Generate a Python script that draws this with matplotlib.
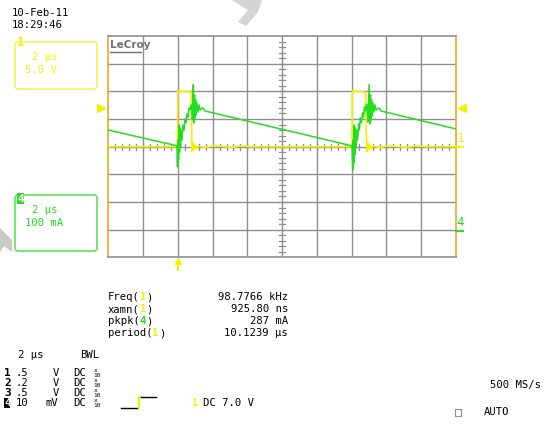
import numpy as np
import matplotlib
matplotlib.use("Agg")
import matplotlib.pyplot as plt
from matplotlib.patches import FancyBboxPatch, Rectangle, Polygon

W, H = 544, 424

# channel 1 trace (yellow), x/y in screen divisions (x 0..10, y -4..4)
ch1_x = [0.0, 1.50, 1.99, 2.00, 2.38, 2.40, 2.41, 2.44, 2.47, 2.50, 2.53, 2.58, 2.80, 3.05, 3.30,
         3.60, 3.85, 4.10, 5.00, 6.00, 7.01, 7.02, 7.40, 7.42, 7.44, 7.47, 7.50, 7.53, 7.56, 7.61,
         7.82, 8.07, 8.32, 8.62, 8.87, 9.12, 10.0]
ch1_y = [0.0, 0.0, 0.0, 2.01, 1.97, 0.50, -0.19, 0.13, -0.12, 0.06, -0.08, 0.02, -0.03, 0.04, 0.0,
         -0.02, 0.04, 0.0, 0.0, 0.0, 0.0, 2.01, 1.97, 0.50, -0.19, 0.13, -0.12, 0.06, -0.08, 0.02,
         -0.03, 0.04, 0.0, -0.02, 0.04, 0.0, 0.0]

# channel 4 trace (green)
ch4_x = [0.0, 1.95, 1.976, 1.99, 2.005, 2.02, 2.033, 2.048, 2.062, 2.077, 2.091, 2.12, 2.148, 2.177,
         2.206, 2.235, 2.263, 2.292, 2.32, 2.35, 2.38, 2.407, 2.42, 2.445, 2.46, 2.48, 2.494, 2.51,
         2.52, 2.55, 2.58, 2.61, 2.64, 2.72, 2.78,
         7.00, 7.01, 7.03, 7.04, 7.06, 7.07, 7.09, 7.10, 7.12, 7.14, 7.17, 7.20, 7.22, 7.25, 7.28,
         7.31, 7.34, 7.37, 7.40, 7.43, 7.45, 7.47, 7.50, 7.52, 7.54, 7.56, 7.57, 7.59, 7.61, 7.64,
         7.67, 7.70, 7.79, 7.84, 10.0]
ch4_y = [0.60, 0.04, -0.01, -0.73, 0.24, -0.48, 0.78, -0.19, 0.68, -0.01, 0.60, 0.24, 0.78, 0.60,
         1.00, 0.86, 1.18, 1.07, 1.40, 1.33, 1.51, 1.36, 0.97, 2.24, 0.86, 1.87, 1.04, 1.69,
         1.15, 1.58, 1.25, 1.51, 1.33, 1.40, 1.29,
         0.03, -0.01, -0.84, 0.24, -0.59, 0.78, -0.30, 0.68, -0.05, 0.60, 0.24, 0.82, 0.60, 1.04, 0.86,
         1.22, 1.07, 1.44, 1.29, 1.54, 1.33, 0.89, 2.24, 0.82, 1.87, 0.96, 1.69, 1.11, 1.58, 1.25,
         1.51, 1.33, 1.40, 1.29, 0.64]

meas_names = ["Freq", "xamn", "pkpk", "period"]
meas_chan = ["1", "1", "4", "1"]
meas_values = ["98.7766 kHz", "925.80 ns", "287 mA", "10.1239 \u00b5s"]
chan_rows = [("1", ".5", "V"), ("2", ".2", "V"), ("3", ".5", "V"), ("4", "10", "mV")]

YEL = "#f2f200"
GRN = "#22dd22"
ORG = "#f5a623"
GRID = "#8f8f8f"
MONO = "DejaVu Sans Mono"
FS = 7.6

fig = plt.figure(figsize=(W / 100, H / 100), dpi=100, facecolor="white")
x0, x1, y0, y1 = 108.3, 456.0, 36.0, 257.3
ax = fig.add_axes([x0 / W, 1 - y1 / H, (x1 - x0) / W, (y1 - y0) / H])
ax.set_xlim(0, 10)
ax.set_ylim(-4, 4)
ax.set_xticks([])
ax.set_yticks([])
for i in range(1, 10):
    ax.axvline(i, color=GRID, lw=1.0, zorder=1)
for j in range(-3, 4):
    ax.axhline(j, color=GRID, lw=1.0, zorder=1)
# minor ticks on centre cross
for k in range(1, 50):
    ax.plot([k * 0.2, k * 0.2], [-0.11, 0.11], color=GRID, lw=0.9, zorder=1)
for k in range(1, 40):
    yy = -4 + k * 0.2
    ax.plot([4.91, 5.09], [yy, yy], color=GRID, lw=0.9, zorder=1)
for side in ["top", "bottom"]:
    ax.spines[side].set_color(GRID)
for side in ["left", "right"]:
    ax.spines[side].set_color(ORG)
for sp in ax.spines.values():
    sp.set_linewidth(1.2)

ax.plot(ch1_x, ch1_y, color=YEL, lw=1.2, zorder=3)
ax.plot(ch4_x, ch4_y, color=GRN, lw=1.1, zorder=4)

# overlay in pixel coordinates
ov = fig.add_axes([0, 0, 1, 1], facecolor="none")
ov.set_xlim(0, W)
ov.set_ylim(H, 0)
ov.axis("off")

def txt(x, y, s, color="black", size=FS, **kw):
    ov.text(x, y, s, color=color, fontsize=size, family=MONO, va="center", **kw)

# LeCroy logo
ov.text(110, 45, "LeCroy", color="#707070", fontsize=7.5, family="DejaVu Sans", va="center",
        fontweight="bold")
ov.plot([110, 141], [51.5, 51.5], color="#707070", lw=1.0)

# date / time
txt(12, 13, "10-Feb-11")
txt(12, 25, "18:29:46")

# channel boxes
ov.add_patch(FancyBboxPatch((15, 42), 82, 47, boxstyle="round,pad=0,rounding_size=3",
                            fc="none", ec="#f5f560", lw=1.3))
txt(17, 42, "1", color=YEL, size=8.5, fontweight="bold")
txt(32, 57, "2 \u00b5s", color=YEL)
txt(25, 70, "5.0 V", color=YEL)

ov.add_patch(FancyBboxPatch((15, 195), 82, 56, boxstyle="round,pad=0,rounding_size=3",
                            fc="none", ec="#66e866", lw=1.3))
ov.add_patch(Rectangle((17, 193), 7, 11, fc=GRN, ec="none"))
txt(17.5, 198.5, "4", color="white", size=8, fontweight="bold")
txt(32, 210, "2 \u00b5s", color=GRN)
txt(25, 223, "100 mA", color=GRN)

# watermark-like grey shapes
ov.add_patch(Polygon([[0, 228], [12, 240], [12, 252], [4, 246], [0, 252]], closed=True,
                     fc="#c8c8c8", ec="none"))
ov.add_patch(Polygon([[232, 0], [262, 0], [258, 12], [246, 26], [238, 22], [248, 10]], closed=True,
                     fc="#d4d4d4", ec="none"))

# trigger level arrows and ground markers
ov.plot([101], [108], marker=">", color=YEL, ms=6, mec=YEL)
ov.plot([462], [108], marker="<", color=YEL, ms=6, mec=YEL)
ov.plot([178, 178], [270, 262], color=YEL, lw=1.5)
ov.plot([178], [261], marker="^", color=YEL, ms=5, mec=YEL)
txt(457, 138, "1", color=YEL, size=9)
ov.plot([456, 463], [147, 147], color=YEL, lw=1.5)
txt(456, 222, "4", color=GRN, size=9)
ov.plot([456, 463], [231, 231], color=GRN, lw=1.5)

# measurements
cw = 0.602 * FS * 100 / 72
for i, (name, ch, val) in enumerate(zip(meas_names, meas_chan, meas_values)):
    y = 297 + i * 12
    txt(108, y, name + "(")
    ccol = GRN if ch == "4" else YEL
    txt(108 + (len(name) + 1) * cw, y, ch, color=ccol, fontweight="bold")
    txt(108 + (len(name) + 2) * cw, y, ")")
    txt(288, y, val, ha="right")

# timebase / channel settings
txt(18, 355, "2 \u00b5s")
txt(80, 355, "BWL")
for i, (ch, v, unit) in enumerate(chan_rows):
    y = 373 + i * 10
    if ch == "4":
        ov.add_patch(Rectangle((4, y - 5), 6, 10, fc="black", ec="none"))
        txt(4.3, y, ch, color="white", size=8, fontweight="bold")
    else:
        txt(4, y, ch, size=8, fontweight="bold")
    txt(16, y, v)
    txt(53 if unit == "V" else 45, y, unit)
    txt(73, y, "DC")
    ov.text(94, y - 2.5, "x", fontsize=4.5, family=MONO, va="center")
    ov.text(93, y + 2.5, "10", fontsize=4.5, family=MONO, va="center")

# trigger symbol
ov.plot([121, 138], [408, 408], color="black", lw=1.0)
ov.plot([138.5, 138.5, 141], [408, 397, 397], color=YEL, lw=1.6)
ov.plot([141, 156], [397, 397], color="black", lw=1.0)
txt(192, 403, "1", color=YEL, fontweight="bold")
txt(203, 403, "DC 7.0 V")

txt(490, 385, "500 MS/s")
ov.add_patch(Rectangle((455, 409), 6, 7, fc="none", ec="#909090", lw=0.8))
txt(484, 412, "AUTO")

fig.savefig("out.png", dpi=100, facecolor="white")
